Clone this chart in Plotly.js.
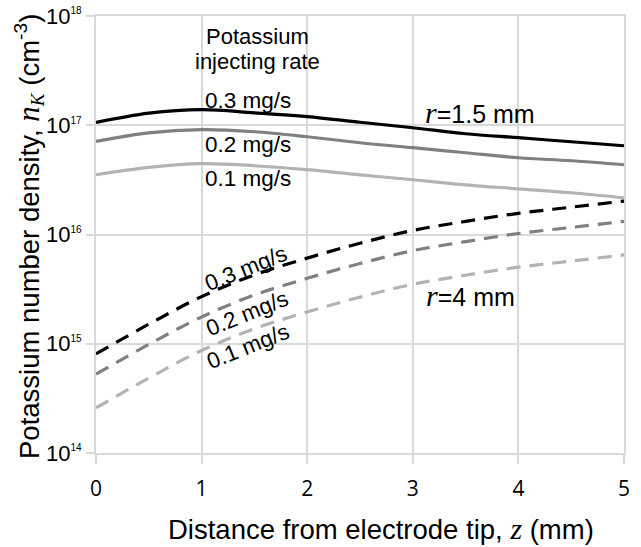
<!DOCTYPE html>
<html>
<head>
<meta charset="utf-8">
<script src="https://cdn.plot.ly/plotly-3.0.1.min.js"></script>
<style>html,body{margin:0;padding:0;background:#fff;}#chart{width:641px;height:547px;}</style>
</head>
<body>
<div id="chart"></div>
<script>
// Distance from electrode tip z (mm)
const z = [0, 0.5, 1, 1.5, 2, 2.5, 3, 3.5, 4, 4.5, 5];
// r = 1.5 mm (solid)
const r15_03 = [1.06e17, 1.29e17, 1.39e17, 1.30e17, 1.20e17, 1.065e17, 9.49e16, 8.36e16, 7.69e16, 7.06e16, 6.49e16];
const r15_02 = [7.11e16, 8.53e16, 9.10e16, 8.72e16, 7.85e16, 6.92e16, 6.23e16, 5.60e16, 5.04e16, 4.73e16, 4.35e16];
const r15_01 = [3.52e16, 4.11e16, 4.45e16, 4.26e16, 3.92e16, 3.52e16, 3.17e16, 2.85e16, 2.62e16, 2.41e16, 2.17e16];
// r = 4 mm (dashed)
const r4_03 = [8.07e14, 1.51e15, 2.70e15, 4.27e15, 6.08e15, 8.32e15, 1.089e16, 1.318e16, 1.563e16, 1.778e16, 2.023e16];
const r4_02 = [5.27e14, 9.86e14, 1.76e15, 2.79e15, 3.97e15, 5.43e15, 7.11e15, 8.61e15, 1.021e16, 1.161e16, 1.321e16];
const r4_01 = [2.59e14, 4.85e14, 8.68e14, 1.372e15, 1.954e15, 2.674e15, 3.50e15, 4.24e15, 5.02e15, 5.71e15, 6.50e15];

const yTickVals = [1e14, 1e15, 1e16, 1e17, 1e18];
const yTickExp = ['14', '15', '16', '17', '18'];
const xTickVals = [0, 1, 2, 3, 4, 5];

const cBlack = '#000000', cGray = '#808080', cLight = '#b3b3b3';
const grid = '#d9d9d9';
const dashPat = '14px,9px';

function tr(y, color, dash) {
  return {x: z, y: y, type: 'scatter', mode: 'lines',
    line: {color: color, width: 3.2, dash: dash, shape: 'spline', smoothing: 1},
    hoverinfo: 'skip', showlegend: false};
}

const data = [
  tr(r15_01, cLight, 'solid'), tr(r15_02, cGray, 'solid'), tr(r15_03, cBlack, 'solid'),
  tr(r4_01, cLight, dashPat), tr(r4_02, cGray, dashPat), tr(r4_03, cBlack, dashPat)
];

const sans = 'Liberation Sans, Arial, sans-serif';
const it = (s, size) => '<span style="font-family:Liberation Serif;font-style:italic' + (size ? ';font-size:' + size + 'px' : '') + '">' + s + '</span>';
function ann(x, y, text, size, angle) {
  return {x: x, y: y, xref: 'x', yref: 'y', text: text, showarrow: false,
    font: {family: sans, size: size, color: '#000'}, textangle: angle || 0,
    xanchor: 'center', yanchor: 'middle'};
}

const yTickText = yTickExp.map(e => '10<sup><span style="font-size:10px">' + e + '</span></sup>');

const layout = {
  width: 641, height: 547,
  margin: {l: 96, r: 17, t: 16, b: 94},
  paper_bgcolor: '#fff', plot_bgcolor: '#fff',
  xaxis: {range: [0, 5], tickvals: xTickVals, showgrid: true, gridcolor: grid, gridwidth: 2,
    showline: true, linecolor: grid, linewidth: 2, mirror: true,
    ticks: 'outside', ticklen: 9, tickwidth: 2, tickcolor: grid, ticklabelstandoff: 7,
    tickfont: {family: 'Open Sans, sans-serif', size: 21, color: '#000'}, zeroline: false},
  yaxis: {type: 'log', range: [14, 18], tickvals: yTickVals, ticktext: yTickText,
    showgrid: true, gridcolor: grid, gridwidth: 2,
    showline: true, linecolor: grid, linewidth: 2, mirror: true,
    ticks: 'outside', ticklen: 8, tickwidth: 2, tickcolor: grid, ticklabelstandoff: 0,
    tickfont: {family: sans, size: 22, color: '#000'}, zeroline: false},
  annotations: [
    ann(1.525, 17.808, 'Potassium', 22),
    ann(1.525, 17.579, 'injecting rate', 22),
    ann(1.435, 17.224, '0.3 mg/s', 22.5),
    ann(1.435, 16.826, '0.2 mg/s', 22.5),
    ann(1.435, 16.51, '0.1 mg/s', 22.5),
    ann(3.64, 17.114, it('r', 30) + '=1.5 mm', 25),
    ann(3.55, 15.44, it('r', 30) + '=4 mm', 25),
    ann(1.42, 15.685, '0.3 mg/s', 22.5, -22),
    ann(1.43, 15.279, '0.2 mg/s', 22.5, -22),
    ann(1.437, 14.972, '0.1 mg/s', 22.5, -22),
    {x: 0.5398, y: -0.1739, xref: 'paper', yref: 'paper', showarrow: false,
      text: 'Distance from electrode tip, ' + it('z', 30) + ' (mm)',
      font: {family: sans, size: 27.5, color: '#000'}, xanchor: 'center', yanchor: 'middle'},
    {x: -0.1269, y: 0.4966, xref: 'paper', yref: 'paper', showarrow: false, textangle: -90,
      text: 'Potassium number density, ' + it('n', 31) + '<sub>' + it('K') + '</sub> (cm<sup>-3</sup>)',
      font: {family: sans, size: 27.5, color: '#000'}, xanchor: 'center', yanchor: 'middle'}
  ]
};

Plotly.newPlot('chart', data, layout, {displayModeBar: false, staticPlot: true});
</script>
</body>
</html>
